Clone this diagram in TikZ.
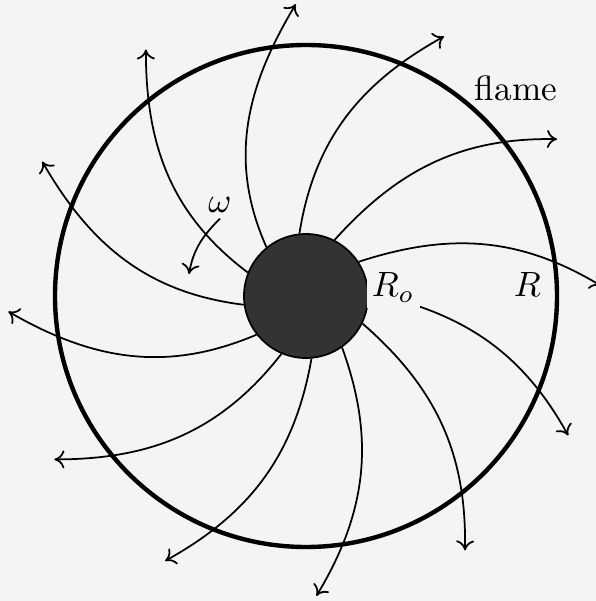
\documentclass[tikz,border=0pt]{standalone}
\usepackage{tikz}
\usetikzlibrary{arrows.meta, positioning, calc}
\definecolor{paper}{RGB}{244,244,244}

\begin{document}
\begin{tikzpicture}[
    flow/.style={-{To[length=1mm, width=1.8mm]}, line width=0.5pt},
    front/.style={circle, draw, line width=1.25pt, minimum size=5.02cm, inner sep=0pt},
    core/.style={circle, draw, fill=black!80, line width=0.5pt, minimum size=1.24cm, inner sep=0pt},
    lbl/.style={fill=paper, inner sep=1.5pt, anchor=base west}
]
\fill[paper] (-3.06,-3.05) rectangle (2.90,2.96);
\useasboundingbox (-3.06,-3.05) rectangle (2.90,2.96);

\node[front] (F) at (0,0) {};
\node[core] (C) at (0,0) {};

% streamlines: start angle on core / end angle / end radius
\foreach \s/\e/\r in {129/92/2.92, 96/62/2.94, 63/32/2.96, 33/2/2.95, 3/-28/2.97,
    -26/-58/3.0, -55/-88/3.0, -85/-118/3.0, -113/-147/3.0, -142/-177/2.98,
    -172/-207/2.96, 158/123/2.94}
{
    \coordinate (tip) at (\e:\r);
    \draw[flow] (C.\s) to[out=\s-15, in=\e+147] (tip);
}

\node[lbl] (Ro) at (0.6,-0.01) {$R_o$};
\node[lbl, fill=none] (R) at (2.02,-0.01) {$R$};
\node[lbl, fill=none] (flame) at (1.63,1.95) {flame};

% swirl
\node[inner sep=1.5pt] (om) at (-0.86,0.91) {$\omega$};
\coordinate (spin) at (-1.17,0.22);
\draw[flow] (om.south) to[out=225, in=80] (spin);
\end{tikzpicture}
\end{document}
